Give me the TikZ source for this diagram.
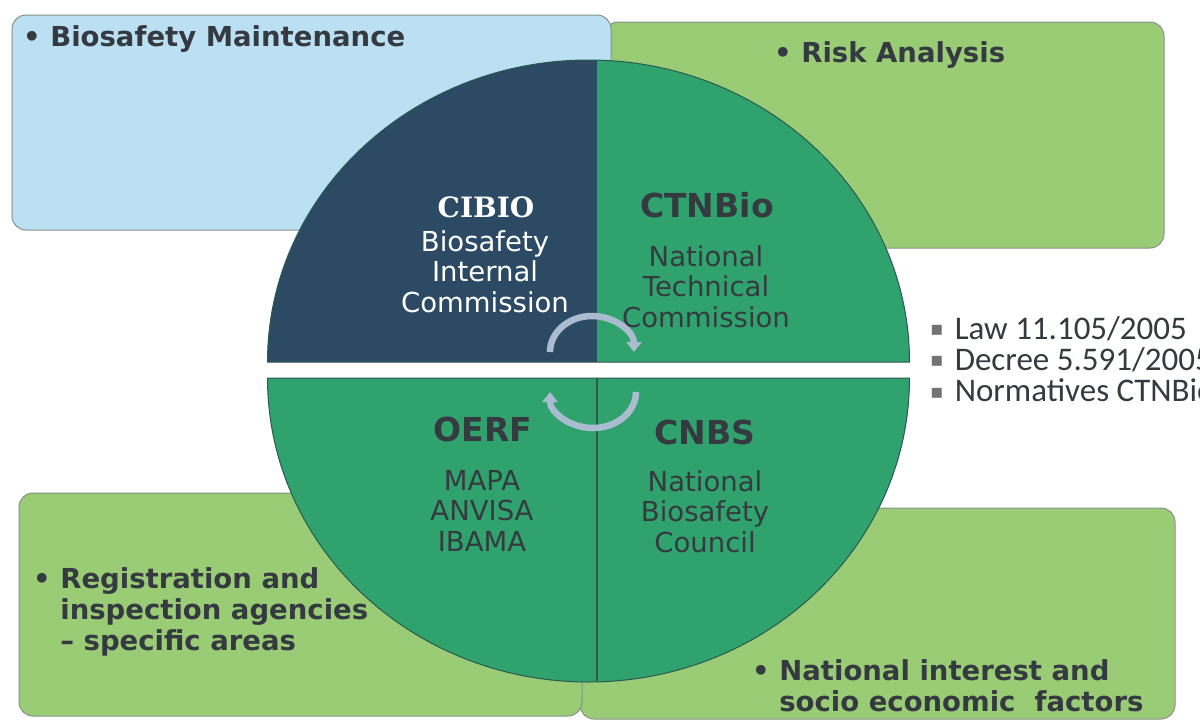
\documentclass[tikz,border=0pt]{standalone}
\usepackage{fontspec}
\setmainfont{DejaVu Sans}
\newfontfamily\titleserif{DejaVu Serif}
\newfontfamily\lawfont{Carlito}
\newfontfamily\symfont{DejaVu Sans}
\usetikzlibrary{arrows.meta}

\definecolor{skyfill}{RGB}{188,224,243}
\definecolor{leaf}{RGB}{154,204,118}
\definecolor{slate}{RGB}{44,74,100}
\definecolor{jade}{RGB}{48,162,110}
\definecolor{ink}{RGB}{52,58,64}
\definecolor{boxedge}{RGB}{135,145,135}
\definecolor{rim}{RGB}{40,90,80}
\definecolor{cyclearrow}{RGB}{170,188,208}

% a column of centred or left-aligned lines whose baseline is the first line
\newcommand\textlines[2][c]{\begin{tabular}[t]{@{}#1@{}}#2\end{tabular}}
\newcommand\sqbullet{\raisebox{3.5pt}{\textcolor{black!55}{\symfont\fontsize{20}{20}\selectfont ▪}}\hspace{11pt}}

\begin{document}
\begin{tikzpicture}[x=1pt,y=-1pt,
  panel/.style={rounded corners=14pt, draw=boxedge, line width=1pt},
  boxtext/.style={font=\bfseries\fontsize{27.5}{31}\selectfont, text=ink, inner sep=0pt, anchor=base west},
  head/.style={font=\bfseries\fontsize{33}{36}\selectfont, text=ink, inner sep=0pt, anchor=base},
  body/.style={font=\fontsize{27.5}{30.8}\selectfont, text=ink, inner sep=0pt, anchor=base},
  lawtext/.style={font=\lawfont\fontsize{33}{28}\selectfont, text=ink, inner sep=0pt, anchor=base west},
  cyclearc/.style={line width=6.5pt, draw=cyclearrow, -{Triangle[length=10pt,width=15pt]}}
]
\useasboundingbox (0,0) rectangle (1200,728);
\fill[white] (0,0) rectangle (1200,728);
\clip (0,0) rectangle (1200,728);

% four coloured panels behind the disc
\draw[panel, fill=leaf]    (604,22)  rectangle (1164,248);
\draw[panel, fill=skyfill] (12,15)   rectangle (611,230);
\draw[panel, fill=leaf]    (580,508) rectangle (1175,719);
\draw[panel, fill=leaf]    (19,493)  rectangle (582,716);

% upper half of the disc: dark left quarter, green right quarter
\begin{scope}
  \clip (267.5,362) arc[start angle=180, end angle=360, x radius=321, y radius=302] -- cycle;
  \fill[slate] (200,40) rectangle (597,370);
  \fill[jade]  (597,40) rectangle (950,370);
\end{scope}
\draw[rim, line width=1pt] (267.5,362) arc[start angle=180, end angle=360, x radius=321, y radius=302] -- cycle;

% lower half of the disc
\draw[rim, line width=1pt, fill=jade] (909.5,378) arc[start angle=0, end angle=180, x radius=321, y radius=304] -- cycle;
\draw[rim, line width=1.2pt] (597,378) -- (597,681);

% cycle arrows between the halves
\draw[cyclearc] (550,352) arc[start angle=180, end angle=360, x radius=42, y radius=36];
\draw[cyclearc] (636,392) arc[start angle=0, end angle=180, x radius=43, y radius=36];

% panel texts
\node[boxtext] (maint) at (23,46)  {• Biosafety Maintenance};
\node[boxtext] (risk)  at (774,62) {• Risk Analysis};
\node[boxtext] (reg)   at (33,588) {\textlines[l]{• Registration and\\\hphantom{• }inspection agencies\\\hphantom{• }– specific areas}};
\node[boxtext] (natint) at (752,680) {\textlines[l]{• National interest and\\\hphantom{• }socio economic\ \ factors}};

% quarter labels
\node[head, text=white, font=\titleserif\bfseries\fontsize{28}{30}\selectfont] (cibio) at (486,217) {CIBIO};
\node[body, text=white] (cibiotxt) at (485,251) {\textlines{Biosafety\\Internal\\Commission}};

\node[head] (ctnbio) at (707,217) {CTNBio};
\node[body] (ctnbiotxt) at (706,266) {\textlines{National\\Technical\\Commission}};

\node[head] (oerf) at (483,441) {OERF};
\node[body] (oerftxt) at (482,490) {\textlines{MAPA\\ANVISA\\IBAMA}};

\node[head] (cnbs) at (705,444) {CNBS};
\node[body] (cnbstxt) at (705,491) {\textlines{National\\Biosafety\\Council}};

% legal framework list
\node[lawtext] (laws) at (930,339) {\textlines[l]{\sqbullet Law 11.105/2005\\\sqbullet Decree 5.591/2005\\\sqbullet Normatives CTNBio}};
\end{tikzpicture}
\end{document}
